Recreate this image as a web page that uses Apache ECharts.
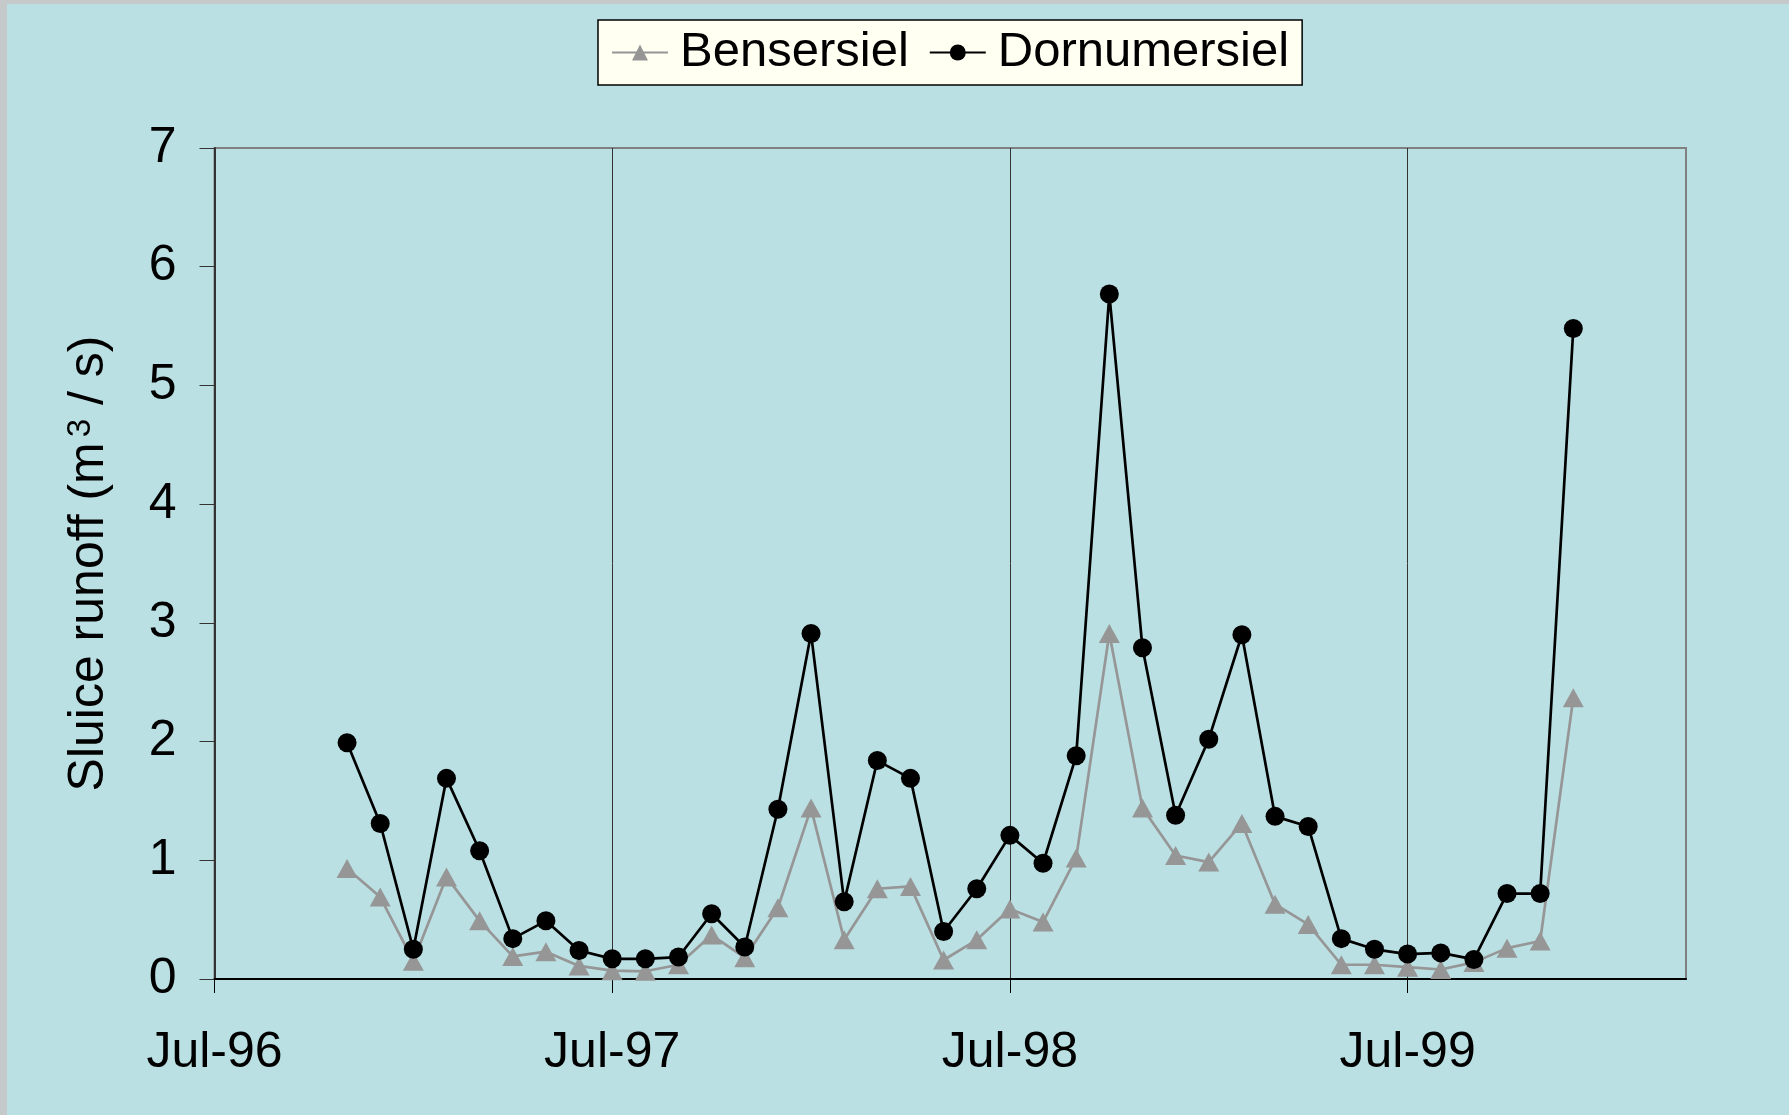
<!DOCTYPE html>
<html>
<head>
<meta charset="utf-8">
<script src="https://cdn.jsdelivr.net/npm/echarts@6/dist/echarts.min.js"></script>
<style>
html, body { margin: 0; padding: 0; width: 1789px; height: 1115px; background: #c5c9c9; overflow: hidden; }
#chart { position: absolute; left: 7px; top: 4px; width: 1782px; height: 1111px; background: #bae0e3; }
</style>
</head>
<body>
<div id="chart"></div>
<script>
// monthly sluice runoff, Nov-96 .. Dec-99
var months = [
    '1996-11', '1996-12',
    '1997-01', '1997-02', '1997-03', '1997-04', '1997-05', '1997-06',
    '1997-07', '1997-08', '1997-09', '1997-10', '1997-11', '1997-12',
    '1998-01', '1998-02', '1998-03', '1998-04', '1998-05', '1998-06',
    '1998-07', '1998-08', '1998-09', '1998-10', '1998-11', '1998-12',
    '1999-01', '1999-02', '1999-03', '1999-04', '1999-05', '1999-06',
    '1999-07', '1999-08', '1999-09', '1999-10', '1999-11', '1999-12'
];
var bensersiel = [
    0.93, 0.69, 0.15, 0.86, 0.49, 0.19, 0.23, 0.11, 0.07, 0.065,
    0.12, 0.37, 0.18, 0.60, 1.44, 0.33, 0.76, 0.78, 0.16, 0.33,
    0.59, 0.48, 1.02, 2.91, 1.44, 1.04, 0.985, 1.31, 0.63, 0.46,
    0.12, 0.12, 0.10, 0.08, 0.14, 0.26, 0.32, 2.37
];
var dornumersiel = [
    1.99, 1.31, 0.25, 1.69, 1.08, 0.34, 0.49, 0.24, 0.17, 0.17,
    0.185, 0.55, 0.27, 1.43, 2.91, 0.65, 1.84, 1.69, 0.40, 0.76,
    1.21, 0.975, 1.88, 5.77, 2.79, 1.38, 2.02, 2.90, 1.37, 1.285,
    0.34, 0.25, 0.21, 0.22, 0.165, 0.72, 0.72, 5.48
];
var xTickLabels = ['Jul-96', 'Jul-97', 'Jul-98', 'Jul-99'];

var FONT = "'Liberation Sans', Arial, sans-serif";

// months since Jul-96
function monthOffset(s) {
    var p = s.split('-');
    return (+p[0] - 1996) * 12 + (+p[1] - 7);
}

function pairs(values) {
    return values.map(function(v, i) {
        return [monthOffset(months[i]), v];
    });
}

var chart = echarts.init(document.getElementById('chart'));

var option = {
    animation: false,
    backgroundColor: 'transparent',
    textStyle: { fontFamily: FONT },
    legend: {
        left: 591,
        top: 16,
        data: ['Bensersiel', 'Dornumersiel'],
        backgroundColor: '#fffff2',
        borderColor: '#000',
        borderWidth: 1.5,
        borderRadius: 0,
        padding: [8, 13, 8, 13],
        itemWidth: 56,
        itemHeight: 20,
        itemGap: 20,
        textStyle: { fontSize: 49, color: '#000', fontFamily: FONT, padding: [0, 0, 0, 7] }
    },
    grid: {
        left: 207.5,
        top: 144,
        right: 103,
        bottom: 136,
        show: true,
        borderColor: '#808080',
        borderWidth: 2,
        backgroundColor: 'transparent'
    },
    xAxis: {
        type: 'value',
        min: 0,
        max: 44.4,
        interval: 12,
        axisLine: { lineStyle: { color: '#000', width: 2 } },
        axisTick: {
            show: true,
            length: 14,
            customValues: [0, 12, 24, 36],
            lineStyle: { color: '#000', width: 1 }
        },
        axisLabel: {
            customValues: [0, 12, 24, 36],
            margin: 49,
            fontSize: 50,
            color: '#000',
            fontFamily: FONT,
            formatter: function(v) {
                return xTickLabels[Math.round(v / 12)] || '';
            }
        },
        splitLine: { show: true, lineStyle: { color: '#333', width: 1 } }
    },
    yAxis: {
        type: 'value',
        min: 0,
        max: 7,
        interval: 1,
        name: '{t|Sluice runoff (m}{s|3}{t| / s)}',
        nameLocation: 'middle',
        nameGap: 100,
        nameTextStyle: {
            rich: {
                t: { fontSize: 50, color: '#000', fontFamily: FONT },
                s: { fontSize: 33, color: '#000', fontFamily: FONT, verticalAlign: 'top', padding: [0, 0, 0, 5] }
            }
        },
        axisLine: { show: true, lineStyle: { color: '#333', width: 2 } },
        axisTick: { show: true, length: 15, lineStyle: { color: '#333', width: 1 } },
        axisLabel: { margin: 38, fontSize: 50, color: '#000', fontFamily: FONT },
        splitLine: { show: false }
    },
    series: [
        {
            name: 'Bensersiel',
            type: 'line',
            data: pairs(bensersiel),
            symbol: 'triangle',
            symbolSize: [21, 19],
            itemStyle: { color: '#969696' },
            lineStyle: { color: '#969696', width: 2.7 }
        },
        {
            name: 'Dornumersiel',
            type: 'line',
            data: pairs(dornumersiel),
            symbol: 'circle',
            symbolSize: 19,
            itemStyle: { color: '#000' },
            lineStyle: { color: '#000', width: 2.7 }
        }
    ]
};

chart.setOption(option);

window.addEventListener('resize', function() {
    chart.resize();
});
</script>
</body>
</html>
